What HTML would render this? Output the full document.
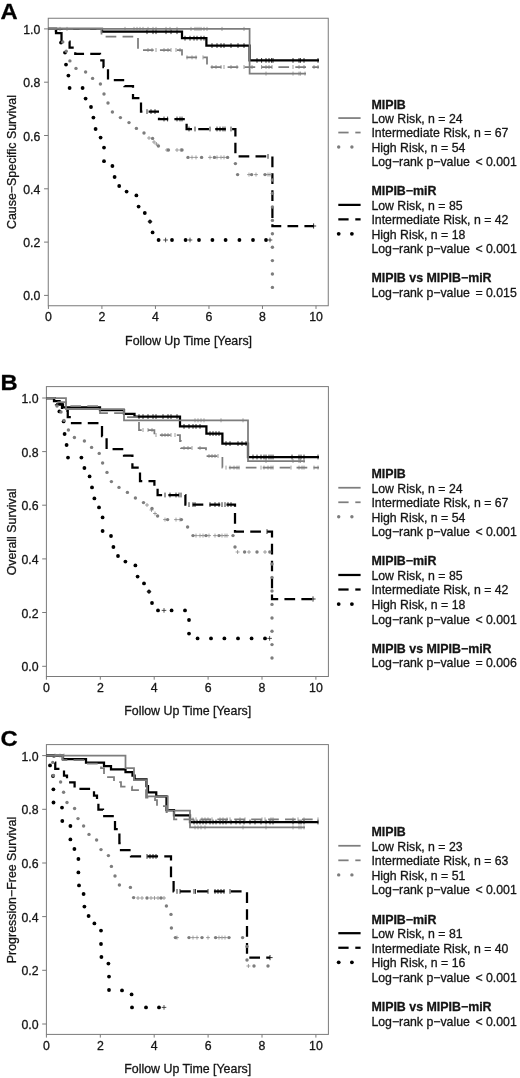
<!DOCTYPE html>
<html lang="en"><head><meta charset="utf-8"><title>Kaplan-Meier survival: MIPIB vs MIPIB-miR</title>
<style>html,body{margin:0;padding:0;background:#fff}svg{display:block}text{font-family:"Liberation Sans", sans-serif;stroke:#151515;stroke-width:0.3px;stroke-linejoin:round}</style>
</head><body>
<svg width="520" height="1078" viewBox="0 0 520 1078">
<rect width="520" height="1078" fill="#fff"/>
<g id="panelA">
<text transform="translate(0.6,18.6) scale(1.07,1)" font-size="22.2" font-weight="bold" fill="#000">A</text>
<rect x="48.25" y="18.25" width="280" height="287.5" fill="none" stroke="#7a7a7a" stroke-width="1"/>
<path d="M48.25,28.9h-4.2M48.25,82.2h-4.2M48.25,135.5h-4.2M48.25,188.8h-4.2M48.25,242.1h-4.2M48.25,295.4h-4.2M48.4,305.75v3.2M101.92,305.75v3.2M155.44,305.75v3.2M208.96,305.75v3.2M262.48,305.75v3.2M316,305.75v3.2" stroke="#7a7a7a" stroke-width="1" fill="none"/>
<text x="40.35" y="33.9" font-size="12.3" text-anchor="end" font-weight="normal" fill="#151515">1.0</text>
<text x="40.35" y="87.2" font-size="12.3" text-anchor="end" font-weight="normal" fill="#151515">0.8</text>
<text x="40.35" y="140.5" font-size="12.3" text-anchor="end" font-weight="normal" fill="#151515">0.6</text>
<text x="40.35" y="193.8" font-size="12.3" text-anchor="end" font-weight="normal" fill="#151515">0.4</text>
<text x="40.35" y="247.1" font-size="12.3" text-anchor="end" font-weight="normal" fill="#151515">0.2</text>
<text x="40.35" y="300.4" font-size="12.3" text-anchor="end" font-weight="normal" fill="#151515">0.0</text>
<text x="48.4" y="320.6" font-size="12.3" text-anchor="middle" font-weight="normal" fill="#151515">0</text>
<text x="101.92" y="320.6" font-size="12.3" text-anchor="middle" font-weight="normal" fill="#151515">2</text>
<text x="155.44" y="320.6" font-size="12.3" text-anchor="middle" font-weight="normal" fill="#151515">4</text>
<text x="208.96" y="320.6" font-size="12.3" text-anchor="middle" font-weight="normal" fill="#151515">6</text>
<text x="262.48" y="320.6" font-size="12.3" text-anchor="middle" font-weight="normal" fill="#151515">8</text>
<text x="316" y="320.6" font-size="12.3" text-anchor="middle" font-weight="normal" fill="#151515">10</text>
<text x="188.55" y="345" font-size="12.4" text-anchor="middle" font-weight="normal" fill="#151515">Follow Up Time [Years]</text>
<text x="15.7" y="162" font-size="12.4" text-anchor="middle" font-weight="normal" fill="#151515" transform="rotate(-90 15.7 162)">Cause−Specific Survival</text>
<path d="M48.4,28.9H102V31.7H182V38.2H206.4V45.6H249.6V60.4H319" fill="none" stroke="#000" stroke-width="2.25" stroke-linecap="butt" stroke-linejoin="miter"/>
<path d="M147,29.3v4.8M153,29.3v4.8M156,29.3v4.8M166,29.3v4.8M171,29.3v4.8M177,29.3v4.8" stroke="#000" stroke-width="0.8" fill="none"/>
<path d="M185,35.8v4.8M190,35.8v4.8M194,35.8v4.8M197,35.8v4.8M201,35.8v4.8M204,35.8v4.8" stroke="#000" stroke-width="0.8" fill="none"/>
<path d="M212,43.2v4.8M217,43.2v4.8M221,43.2v4.8M224,43.2v4.8M231,43.2v4.8M238,43.2v4.8M244,43.2v4.8" stroke="#000" stroke-width="0.8" fill="none"/>
<path d="M257,58v4.8M261.6,58v4.8M266,58v4.8M269,58v4.8M271.6,58v4.8M273,58v4.8M293,58v4.8M299,58v4.8M300.4,58v4.8M304,58v4.8M318,58v4.8" stroke="#000" stroke-width="0.8" fill="none"/>
<path d="M48.4,28.9H56V33H61.5V41.5H69.6V47.5H75.25V53.75H100V60.4H103.5V67H108V80H124.5V86H133V98H141V111.6H159V119H186.6" fill="none" stroke="#000" stroke-width="2.25" stroke-linecap="butt" stroke-linejoin="miter" stroke-dasharray="10.4 6.2" stroke-dashoffset="-0.3"/>
<path d="M186.6,119V129H235.4V156.4H272.4V226H313.6" fill="none" stroke="#000" stroke-width="2.25" stroke-linecap="butt" stroke-linejoin="miter" stroke-dasharray="10.7 6.23" stroke-dashoffset="12.2"/>
<path d="M56,29.5V33H61.5" fill="none" stroke="#000" stroke-width="2.25" stroke-linecap="butt" stroke-linejoin="miter"/>
<path d="M147,109.2v4.8M151,109.2v4.8M155,109.2v4.8" stroke="#000" stroke-width="0.8" fill="none"/>
<path d="M164,116.6v4.8M167.6,116.6v4.8M177,116.6v4.8M180,116.6v4.8M182,116.6v4.8" stroke="#000" stroke-width="0.8" fill="none"/>
<path d="M189,126.6v4.8M195,126.6v4.8M210,126.6v4.8M217,126.6v4.8M220,126.6v4.8M223,126.6v4.8M225,126.6v4.8M231,126.6v4.8" stroke="#000" stroke-width="0.8" fill="none"/>
<path d="M268,154v4.8" stroke="#000" stroke-width="0.8" fill="none"/>
<path d="M313.6,223.4v5.2M311,226h5.2" stroke="#000" stroke-width="0.8" fill="none"/>
<g fill="#000">
<circle cx="61" cy="42.6" r="1.9"/>
<circle cx="65" cy="52.6" r="1.9"/>
<circle cx="66" cy="64.6" r="1.9"/>
<circle cx="68.4" cy="75.6" r="1.9"/>
<circle cx="69.6" cy="88" r="1.9"/>
<circle cx="82.6" cy="88" r="1.9"/>
<circle cx="85.6" cy="98.6" r="1.9"/>
<circle cx="91" cy="107" r="1.9"/>
<circle cx="93.4" cy="117.6" r="1.9"/>
<circle cx="95.6" cy="129" r="1.9"/>
<circle cx="100.6" cy="137.6" r="1.9"/>
<circle cx="104" cy="147.6" r="1.9"/>
<circle cx="104" cy="161.2" r="1.9"/>
<circle cx="112.4" cy="166" r="1.9"/>
<circle cx="114.6" cy="177" r="1.9"/>
<circle cx="119.2" cy="186" r="1.9"/>
<circle cx="126.6" cy="191.6" r="1.9"/>
<circle cx="136.4" cy="195.4" r="1.9"/>
<circle cx="138.6" cy="206.6" r="1.9"/>
<circle cx="144.8" cy="213" r="1.9"/>
<circle cx="150" cy="221.6" r="1.9"/>
<circle cx="152.6" cy="232.4" r="1.9"/>
<circle cx="158.6" cy="240" r="1.9"/>
<circle cx="172" cy="240" r="1.9"/>
<circle cx="185.6" cy="240" r="1.9"/>
<circle cx="199" cy="240" r="1.9"/>
<circle cx="212.4" cy="240" r="1.9"/>
<circle cx="225.6" cy="240" r="1.9"/>
<circle cx="239.4" cy="240" r="1.9"/>
<circle cx="253" cy="240" r="1.9"/>
<circle cx="266" cy="240" r="1.9"/>
</g>
<path d="M150,219.3v4.6M147.7,221.6h4.6M165.6,237.7v4.6M163.3,240h4.6M190,237.7v4.6M187.7,240h4.6M270,237.7v4.6M267.7,240h4.6" stroke="#222" stroke-width="0.8" fill="none"/>
<path d="M48.4,28.9H249.6V73.6H306" fill="none" stroke="#7d7d7d" stroke-width="1.75" stroke-linecap="butt" stroke-linejoin="miter"/>
<path d="M60,26.9v4M67,26.9v4M125,26.9v4M134,26.9v4M137,26.9v4M140,26.9v4M143,26.9v4M148,26.9v4M153,26.9v4M156,26.9v4M166,26.9v4M170,26.9v4M177,26.9v4M191,26.9v4M195,26.9v4M197,26.9v4M199,26.9v4M201,26.9v4M204,26.9v4M207,26.9v4M222,26.9v4M244,26.9v4" stroke="#7d7d7d" stroke-width="0.75" fill="none"/>
<path d="M266,71.6v4M293,71.6v4M299,71.6v4M300.4,71.6v4M305,71.6v4" stroke="#7d7d7d" stroke-width="0.75" fill="none"/>
<path d="M48.4,28.9H101.5V36.6H138V50H182V57.4H207V67H319" fill="none" stroke="#7d7d7d" stroke-width="1.75" stroke-linecap="butt" stroke-linejoin="miter" stroke-dasharray="10.7 6.23" stroke-dashoffset="2.8"/>
<path d="M148,48v4M152,48v4M156,48v4M164,48v4M168,48v4M171,48v4M176,48v4M180,48v4" stroke="#7d7d7d" stroke-width="0.75" fill="none"/>
<path d="M187,55.4v4M192,55.4v4M196,55.4v4M203,55.4v4" stroke="#7d7d7d" stroke-width="0.75" fill="none"/>
<path d="M212,65v4M216,65v4M221,65v4M224,65v4M231,65v4M237,65v4M244,65v4M252,65v4M261.6,65v4M266,65v4M269,65v4M272,65v4M293,65v4M299,65v4M304,65v4M314,65v4M318,65v4" stroke="#7d7d7d" stroke-width="0.75" fill="none"/>
<g fill="#7d7d7d">
<circle cx="62.75" cy="41.9" r="1.7"/>
<circle cx="66.25" cy="51.25" r="1.7"/>
<circle cx="69.9" cy="60.9" r="1.7"/>
<circle cx="76" cy="68.4" r="1.7"/>
<circle cx="85.6" cy="72" r="1.7"/>
<circle cx="92.6" cy="78.4" r="1.7"/>
<circle cx="100.4" cy="84" r="1.7"/>
<circle cx="104" cy="94" r="1.7"/>
<circle cx="108" cy="103" r="1.7"/>
<circle cx="112.4" cy="112" r="1.7"/>
<circle cx="120.4" cy="117.6" r="1.7"/>
<circle cx="129" cy="122.6" r="1.7"/>
<circle cx="136.4" cy="128.4" r="1.7"/>
<circle cx="144" cy="133" r="1.7"/>
<circle cx="152.6" cy="138.4" r="1.7"/>
<circle cx="158.4" cy="146" r="1.7"/>
<circle cx="168.4" cy="150" r="1.7"/>
<circle cx="182" cy="150" r="1.7"/>
<circle cx="188" cy="157.4" r="1.7"/>
<circle cx="201.6" cy="157.4" r="1.7"/>
<circle cx="214.4" cy="157.4" r="1.7"/>
<circle cx="227.6" cy="157.4" r="1.7"/>
<circle cx="235.4" cy="163.6" r="1.7"/>
<circle cx="237.6" cy="174.6" r="1.7"/>
<circle cx="251.6" cy="174.6" r="1.7"/>
<circle cx="265" cy="174.6" r="1.7"/>
<circle cx="272.4" cy="180" r="1.7"/>
<circle cx="272.4" cy="193.4" r="1.7"/>
<circle cx="272.4" cy="207" r="1.7"/>
<circle cx="272.4" cy="220.4" r="1.7"/>
<circle cx="272.4" cy="233.8" r="1.7"/>
<circle cx="272.4" cy="247.2" r="1.7"/>
<circle cx="272.4" cy="260.6" r="1.7"/>
<circle cx="272.4" cy="274" r="1.7"/>
<circle cx="272.4" cy="287.4" r="1.7"/>
</g>
<path d="M149,136v4M147,138h4M154,140v4M152,142h4M156.4,142v4M154.4,144h4M167,148v4M165,150h4M177,148v4M175,150h4M181,148v4M179,150h4M192,155.4v4M190,157.4h4M196,155.4v4M194,157.4h4M210,155.4v4M208,157.4h4M217,155.4v4M215,157.4h4M221,155.4v4M219,157.4h4M224,155.4v4M222,157.4h4M249,172.6v4M247,174.6h4M256,172.6v4M254,174.6h4M268,172.6v4M266,174.6h4M270,172.6v4M268,174.6h4" stroke="#7d7d7d" stroke-width="0.7" fill="none"/>
<text x="371.4" y="108.5" font-size="12.4" text-anchor="start" font-weight="bold" fill="#151515">MIPIB</text>
<text x="371.4" y="122.97" font-size="12.3" text-anchor="start" font-weight="normal" fill="#151515">Low Risk, n = 24</text>
<path d="M338.3,118.07H360.6" fill="none" stroke="#7d7d7d" stroke-width="1.75" stroke-linecap="butt" stroke-linejoin="miter"/>
<text x="371.4" y="137.44" font-size="12.3" text-anchor="start" font-weight="normal" fill="#151515">Intermediate Risk, n = 67</text>
<path d="M338.3,132.54H348.6" fill="none" stroke="#7d7d7d" stroke-width="1.75" stroke-linecap="butt" stroke-linejoin="miter"/>
<path d="M355.3,132.54H360.6" fill="none" stroke="#7d7d7d" stroke-width="1.75" stroke-linecap="butt" stroke-linejoin="miter"/>
<text x="371.4" y="151.91" font-size="12.3" text-anchor="start" font-weight="normal" fill="#151515">High Risk, n = 54</text>
<g fill="#7d7d7d">
<circle cx="338.7" cy="147.01" r="1.7"/>
<circle cx="351.9" cy="147.01" r="1.7"/>
</g>
<text x="371.4" y="166.38" font-size="12.3" text-anchor="start" font-weight="normal" fill="#151515">Log−rank p−value</text>
<text x="516.8" y="166.38" font-size="12.3" text-anchor="end" font-weight="normal" fill="#151515">&lt; 0.001</text>
<text x="371.4" y="195.32" font-size="12.4" text-anchor="start" font-weight="bold" fill="#151515">MIPIB−miR</text>
<text x="371.4" y="209.79" font-size="12.3" text-anchor="start" font-weight="normal" fill="#151515">Low Risk, n = 85</text>
<path d="M338.3,204.89H360.6" fill="none" stroke="#000" stroke-width="2.25" stroke-linecap="butt" stroke-linejoin="miter"/>
<text x="371.4" y="224.26" font-size="12.3" text-anchor="start" font-weight="normal" fill="#151515">Intermediate Risk, n = 42</text>
<path d="M338.3,219.36H348.6" fill="none" stroke="#000" stroke-width="2.25" stroke-linecap="butt" stroke-linejoin="miter"/>
<path d="M355.3,219.36H360.6" fill="none" stroke="#000" stroke-width="2.25" stroke-linecap="butt" stroke-linejoin="miter"/>
<text x="371.4" y="238.73" font-size="12.3" text-anchor="start" font-weight="normal" fill="#151515">High Risk, n = 18</text>
<g fill="#000">
<circle cx="338.7" cy="233.83" r="1.9"/>
<circle cx="351.9" cy="233.83" r="1.9"/>
</g>
<text x="371.4" y="253.2" font-size="12.3" text-anchor="start" font-weight="normal" fill="#151515">Log−rank p−value</text>
<text x="516.8" y="253.2" font-size="12.3" text-anchor="end" font-weight="normal" fill="#151515">&lt; 0.001</text>
<text x="371.4" y="282.14" font-size="12.4" text-anchor="start" font-weight="bold" fill="#151515">MIPIB vs MIPIB−miR</text>
<text x="371.4" y="296.61" font-size="12.3" text-anchor="start" font-weight="normal" fill="#151515">Log−rank p−value</text>
<text x="516.8" y="296.61" font-size="12.3" text-anchor="end" font-weight="normal" fill="#151515">= 0.015</text>
</g>
<g id="panelB">
<text transform="translate(0.6,389.6) scale(1.07,1)" font-size="22.2" font-weight="bold" fill="#000">B</text>
<rect x="46.4" y="386.6" width="282" height="289.9" fill="none" stroke="#7a7a7a" stroke-width="1"/>
<path d="M46.4,398h-4.2M46.4,451.6h-4.2M46.4,505.2h-4.2M46.4,558.9h-4.2M46.4,612.5h-4.2M46.4,666.3h-4.2M46.4,676.5v3.2M100.3,676.5v3.2M154.2,676.5v3.2M208.1,676.5v3.2M262,676.5v3.2M315.9,676.5v3.2" stroke="#7a7a7a" stroke-width="1" fill="none"/>
<text x="38.5" y="403" font-size="12.3" text-anchor="end" font-weight="normal" fill="#151515">1.0</text>
<text x="38.5" y="456.6" font-size="12.3" text-anchor="end" font-weight="normal" fill="#151515">0.8</text>
<text x="38.5" y="510.2" font-size="12.3" text-anchor="end" font-weight="normal" fill="#151515">0.6</text>
<text x="38.5" y="563.9" font-size="12.3" text-anchor="end" font-weight="normal" fill="#151515">0.4</text>
<text x="38.5" y="617.5" font-size="12.3" text-anchor="end" font-weight="normal" fill="#151515">0.2</text>
<text x="38.5" y="671.3" font-size="12.3" text-anchor="end" font-weight="normal" fill="#151515">0.0</text>
<text x="46.4" y="691.7" font-size="12.3" text-anchor="middle" font-weight="normal" fill="#151515">0</text>
<text x="100.3" y="691.7" font-size="12.3" text-anchor="middle" font-weight="normal" fill="#151515">2</text>
<text x="154.2" y="691.7" font-size="12.3" text-anchor="middle" font-weight="normal" fill="#151515">4</text>
<text x="208.1" y="691.7" font-size="12.3" text-anchor="middle" font-weight="normal" fill="#151515">6</text>
<text x="262" y="691.7" font-size="12.3" text-anchor="middle" font-weight="normal" fill="#151515">8</text>
<text x="315.9" y="691.7" font-size="12.3" text-anchor="middle" font-weight="normal" fill="#151515">10</text>
<text x="187.7" y="715" font-size="12.4" text-anchor="middle" font-weight="normal" fill="#151515">Follow Up Time [Years]</text>
<text x="15.7" y="532" font-size="12.4" text-anchor="middle" font-weight="normal" fill="#151515" transform="rotate(-90 15.7 532)">Overall Survival</text>
<path d="M46.4,398H54V401H59.6V404.3H63V407.4H100V410H124V413.8H134.5V416.7H180V426.4H206.4V433.6H222.4V443.6H248V457H319" fill="none" stroke="#000" stroke-width="2.25" stroke-linecap="butt" stroke-linejoin="miter"/>
<path d="M139,414.2v4.8M143,414.2v4.8M148,414.2v4.8M153,414.2v4.8M156,414.2v4.8M163,414.2v4.8M168,414.2v4.8M171,414.2v4.8M177,414.2v4.8" stroke="#000" stroke-width="0.8" fill="none"/>
<path d="M184,424v4.8M189,424v4.8M193,424v4.8M196,424v4.8M200,424v4.8" stroke="#000" stroke-width="0.8" fill="none"/>
<path d="M210,431.2v4.8M213,431.2v4.8M216,431.2v4.8M219,431.2v4.8" stroke="#000" stroke-width="0.8" fill="none"/>
<path d="M226,441.2v4.8M230,441.2v4.8M238,441.2v4.8M242,441.2v4.8M246,441.2v4.8" stroke="#000" stroke-width="0.8" fill="none"/>
<path d="M253,454.6v4.8M257,454.6v4.8M261,454.6v4.8M264,454.6v4.8M266,454.6v4.8M269,454.6v4.8M271,454.6v4.8M273,454.6v4.8M292,454.6v4.8M299,454.6v4.8M301,454.6v4.8M304,454.6v4.8M318,454.6v4.8" stroke="#000" stroke-width="0.8" fill="none"/>
<path d="M46.4,398H56V404.4H62V410.8H67.75V417H72V423.2H102V436H106.6V449.2H124V455.6H132.4V467.6H140V481H154.4V488H157.6V495H185.4V504.6H235V531.6H272V599H313" fill="none" stroke="#000" stroke-width="2.25" stroke-linecap="butt" stroke-linejoin="miter" stroke-dasharray="10.7 6.23" stroke-dashoffset="1.15"/>
<path d="M165,492.6v4.8M170,492.6v4.8M176,492.6v4.8M179,492.6v4.8M181,492.6v4.8" stroke="#000" stroke-width="0.8" fill="none"/>
<path d="M189,502.2v4.8M193,502.2v4.8M195,502.2v4.8M210,502.2v4.8M215,502.2v4.8M219,502.2v4.8M222,502.2v4.8M225,502.2v4.8M228,502.2v4.8M231,502.2v4.8" stroke="#000" stroke-width="0.8" fill="none"/>
<path d="M267,529.2v4.8" stroke="#000" stroke-width="0.8" fill="none"/>
<path d="M313,596.4v5.2M310.4,599h5.2" stroke="#000" stroke-width="0.8" fill="none"/>
<g fill="#000">
<circle cx="59.4" cy="411.4" r="1.9"/>
<circle cx="63.6" cy="421.4" r="1.9"/>
<circle cx="64.6" cy="434" r="1.9"/>
<circle cx="66.6" cy="445" r="1.9"/>
<circle cx="68" cy="457.6" r="1.9"/>
<circle cx="81.4" cy="457.6" r="1.9"/>
<circle cx="84.4" cy="468" r="1.9"/>
<circle cx="89.6" cy="476.4" r="1.9"/>
<circle cx="92" cy="487.4" r="1.9"/>
<circle cx="94.4" cy="498.4" r="1.9"/>
<circle cx="99" cy="507.4" r="1.9"/>
<circle cx="102.6" cy="517.4" r="1.9"/>
<circle cx="102.6" cy="531" r="1.9"/>
<circle cx="111" cy="536" r="1.9"/>
<circle cx="113.4" cy="547" r="1.9"/>
<circle cx="118" cy="556" r="1.9"/>
<circle cx="125.4" cy="561.6" r="1.9"/>
<circle cx="135.4" cy="565.4" r="1.9"/>
<circle cx="137.6" cy="576.6" r="1.9"/>
<circle cx="144" cy="583.4" r="1.9"/>
<circle cx="149" cy="591.6" r="1.9"/>
<circle cx="152" cy="603" r="1.9"/>
<circle cx="158" cy="610.4" r="1.9"/>
<circle cx="171.6" cy="610.4" r="1.9"/>
<circle cx="185" cy="610.4" r="1.9"/>
<circle cx="189" cy="620" r="1.9"/>
<circle cx="189" cy="633.6" r="1.9"/>
<circle cx="197.6" cy="638.4" r="1.9"/>
<circle cx="211" cy="638.4" r="1.9"/>
<circle cx="224.4" cy="638.4" r="1.9"/>
<circle cx="238" cy="638.4" r="1.9"/>
<circle cx="251.6" cy="638.4" r="1.9"/>
<circle cx="265" cy="638.4" r="1.9"/>
</g>
<path d="M149,589.3v4.6M146.7,591.6h4.6M164,608.1v4.6M161.7,610.4h4.6M269.6,636.1v4.6M267.3,638.4h4.6" stroke="#222" stroke-width="0.8" fill="none"/>
<path d="M46.4,398H66V409.2H124V420.3H248V461H305" fill="none" stroke="#7d7d7d" stroke-width="1.75" stroke-linecap="butt" stroke-linejoin="miter"/>
<path d="M195,418.3v4M198,418.3v4M201,418.3v4M204,418.3v4M221,418.3v4M243,418.3v4" stroke="#7d7d7d" stroke-width="0.75" fill="none"/>
<path d="M266,459v4M293,459v4M299,459v4M300.4,459v4M304,459v4" stroke="#7d7d7d" stroke-width="0.75" fill="none"/>
<path d="M46.4,398H56V402H66V406H100V413H124V417H139V430H154.4V435H180V441H181V448H206V456H222.4V467.6H319" fill="none" stroke="#7d7d7d" stroke-width="1.75" stroke-linecap="butt" stroke-linejoin="miter" stroke-dasharray="10.7 6.23" stroke-dashoffset="1.9"/>
<path d="M143,428v4M148,428v4M152,428v4" stroke="#7d7d7d" stroke-width="0.75" fill="none"/>
<path d="M156,433v4M162,433v4M165,433v4M168,433v4M171,433v4M175,433v4" stroke="#7d7d7d" stroke-width="0.75" fill="none"/>
<path d="M184,446v4M188,446v4M192,446v4M200,446v4" stroke="#7d7d7d" stroke-width="0.75" fill="none"/>
<path d="M209,454v4M212,454v4M215,454v4M218,454v4" stroke="#7d7d7d" stroke-width="0.75" fill="none"/>
<path d="M226,465.6v4M230,465.6v4M234,465.6v4M237,465.6v4M239,465.6v4M261,465.6v4M264,465.6v4M268,465.6v4M271,465.6v4M273,465.6v4M291,465.6v4M299,465.6v4M302,465.6v4M304,465.6v4M314,465.6v4M318,465.6v4" stroke="#7d7d7d" stroke-width="0.75" fill="none"/>
<g fill="#7d7d7d">
<circle cx="57" cy="406" r="1.7"/>
<circle cx="61" cy="412" r="1.7"/>
<circle cx="64" cy="420.4" r="1.7"/>
<circle cx="68.4" cy="430" r="1.7"/>
<circle cx="74.4" cy="437.5" r="1.7"/>
<circle cx="84.4" cy="441" r="1.7"/>
<circle cx="91.6" cy="447.4" r="1.7"/>
<circle cx="99.2" cy="453.4" r="1.7"/>
<circle cx="102.6" cy="463" r="1.7"/>
<circle cx="107" cy="472.4" r="1.7"/>
<circle cx="111.4" cy="481.6" r="1.7"/>
<circle cx="119" cy="487.4" r="1.7"/>
<circle cx="127.4" cy="492.4" r="1.7"/>
<circle cx="135.4" cy="498" r="1.7"/>
<circle cx="143.5" cy="502.6" r="1.7"/>
<circle cx="152" cy="508.4" r="1.7"/>
<circle cx="157.6" cy="516" r="1.7"/>
<circle cx="167.6" cy="519.6" r="1.7"/>
<circle cx="181.4" cy="519.6" r="1.7"/>
<circle cx="187.6" cy="527" r="1.7"/>
<circle cx="193" cy="535.6" r="1.7"/>
<circle cx="206" cy="535.6" r="1.7"/>
<circle cx="219" cy="535.6" r="1.7"/>
<circle cx="233" cy="535.6" r="1.7"/>
<circle cx="235" cy="547" r="1.7"/>
<circle cx="244.6" cy="552" r="1.7"/>
<circle cx="257" cy="552" r="1.7"/>
<circle cx="269.8" cy="552" r="1.7"/>
<circle cx="272" cy="564" r="1.7"/>
<circle cx="272" cy="577.4" r="1.7"/>
<circle cx="272" cy="591" r="1.7"/>
<circle cx="272" cy="604.4" r="1.7"/>
<circle cx="272" cy="618" r="1.7"/>
<circle cx="272" cy="631.2" r="1.7"/>
<circle cx="272" cy="644.6" r="1.7"/>
<circle cx="272" cy="658" r="1.7"/>
</g>
<path d="M147,503v4M145,505h4M151.5,508v4M149.5,510h4M155,511.5v4M153,513.5h4M165,517.6v4M163,519.6h4M176,517.6v4M174,519.6h4M180,517.6v4M178,519.6h4M196,533.6v4M194,535.6h4M200,533.6v4M198,535.6h4M203,533.6v4M201,535.6h4M209,533.6v4M207,535.6h4M215,533.6v4M213,535.6h4M222,533.6v4M220,535.6h4M225,533.6v4M223,535.6h4M227,533.6v4M225,535.6h4M237.6,550v4M235.6,552h4M249,550v4M247,552h4M265,550v4M263,552h4" stroke="#7d7d7d" stroke-width="0.7" fill="none"/>
<text x="371.4" y="478.1" font-size="12.4" text-anchor="start" font-weight="bold" fill="#151515">MIPIB</text>
<text x="371.4" y="492.64" font-size="12.3" text-anchor="start" font-weight="normal" fill="#151515">Low Risk, n = 24</text>
<path d="M338.3,487.74H360.6" fill="none" stroke="#7d7d7d" stroke-width="1.75" stroke-linecap="butt" stroke-linejoin="miter"/>
<text x="371.4" y="507.18" font-size="12.3" text-anchor="start" font-weight="normal" fill="#151515">Intermediate Risk, n = 67</text>
<path d="M338.3,502.28H348.6" fill="none" stroke="#7d7d7d" stroke-width="1.75" stroke-linecap="butt" stroke-linejoin="miter"/>
<path d="M355.3,502.28H360.6" fill="none" stroke="#7d7d7d" stroke-width="1.75" stroke-linecap="butt" stroke-linejoin="miter"/>
<text x="371.4" y="521.72" font-size="12.3" text-anchor="start" font-weight="normal" fill="#151515">High Risk, n = 54</text>
<g fill="#7d7d7d">
<circle cx="338.7" cy="516.82" r="1.7"/>
<circle cx="351.9" cy="516.82" r="1.7"/>
</g>
<text x="371.4" y="536.26" font-size="12.3" text-anchor="start" font-weight="normal" fill="#151515">Log−rank p−value</text>
<text x="516.8" y="536.26" font-size="12.3" text-anchor="end" font-weight="normal" fill="#151515">&lt; 0.001</text>
<text x="371.4" y="565.34" font-size="12.4" text-anchor="start" font-weight="bold" fill="#151515">MIPIB−miR</text>
<text x="371.4" y="579.88" font-size="12.3" text-anchor="start" font-weight="normal" fill="#151515">Low Risk, n = 85</text>
<path d="M338.3,574.98H360.6" fill="none" stroke="#000" stroke-width="2.25" stroke-linecap="butt" stroke-linejoin="miter"/>
<text x="371.4" y="594.42" font-size="12.3" text-anchor="start" font-weight="normal" fill="#151515">Intermediate Risk, n = 42</text>
<path d="M338.3,589.52H348.6" fill="none" stroke="#000" stroke-width="2.25" stroke-linecap="butt" stroke-linejoin="miter"/>
<path d="M355.3,589.52H360.6" fill="none" stroke="#000" stroke-width="2.25" stroke-linecap="butt" stroke-linejoin="miter"/>
<text x="371.4" y="608.96" font-size="12.3" text-anchor="start" font-weight="normal" fill="#151515">High Risk, n = 18</text>
<g fill="#000">
<circle cx="338.7" cy="604.06" r="1.9"/>
<circle cx="351.9" cy="604.06" r="1.9"/>
</g>
<text x="371.4" y="623.5" font-size="12.3" text-anchor="start" font-weight="normal" fill="#151515">Log−rank p−value</text>
<text x="516.8" y="623.5" font-size="12.3" text-anchor="end" font-weight="normal" fill="#151515">&lt; 0.001</text>
<text x="371.4" y="652.58" font-size="12.4" text-anchor="start" font-weight="bold" fill="#151515">MIPIB vs MIPIB−miR</text>
<text x="371.4" y="667.12" font-size="12.3" text-anchor="start" font-weight="normal" fill="#151515">Log−rank p−value</text>
<text x="516.8" y="667.12" font-size="12.3" text-anchor="end" font-weight="normal" fill="#151515">= 0.006</text>
</g>
<g id="panelC">
<text transform="translate(0.6,746.4) scale(1.07,1)" font-size="22.2" font-weight="bold" fill="#000">C</text>
<rect x="46.4" y="744.6" width="282" height="289.8" fill="none" stroke="#7a7a7a" stroke-width="1"/>
<path d="M46.4,755.6h-4.2M46.4,809.3h-4.2M46.4,863h-4.2M46.4,916.6h-4.2M46.4,970.3h-4.2M46.4,1024h-4.2M46.4,1034.4v3.2M100.3,1034.4v3.2M154.2,1034.4v3.2M208.1,1034.4v3.2M262,1034.4v3.2M315.9,1034.4v3.2" stroke="#7a7a7a" stroke-width="1" fill="none"/>
<text x="38.5" y="760.6" font-size="12.3" text-anchor="end" font-weight="normal" fill="#151515">1.0</text>
<text x="38.5" y="814.3" font-size="12.3" text-anchor="end" font-weight="normal" fill="#151515">0.8</text>
<text x="38.5" y="868" font-size="12.3" text-anchor="end" font-weight="normal" fill="#151515">0.6</text>
<text x="38.5" y="921.6" font-size="12.3" text-anchor="end" font-weight="normal" fill="#151515">0.4</text>
<text x="38.5" y="975.3" font-size="12.3" text-anchor="end" font-weight="normal" fill="#151515">0.2</text>
<text x="38.5" y="1029" font-size="12.3" text-anchor="end" font-weight="normal" fill="#151515">0.0</text>
<text x="46.4" y="1049.6" font-size="12.3" text-anchor="middle" font-weight="normal" fill="#151515">0</text>
<text x="100.3" y="1049.6" font-size="12.3" text-anchor="middle" font-weight="normal" fill="#151515">2</text>
<text x="154.2" y="1049.6" font-size="12.3" text-anchor="middle" font-weight="normal" fill="#151515">4</text>
<text x="208.1" y="1049.6" font-size="12.3" text-anchor="middle" font-weight="normal" fill="#151515">6</text>
<text x="262" y="1049.6" font-size="12.3" text-anchor="middle" font-weight="normal" fill="#151515">8</text>
<text x="315.9" y="1049.6" font-size="12.3" text-anchor="middle" font-weight="normal" fill="#151515">10</text>
<text x="187.7" y="1073" font-size="12.4" text-anchor="middle" font-weight="normal" fill="#151515">Follow Up Time [Years]</text>
<text x="15.7" y="890" font-size="12.4" text-anchor="middle" font-weight="normal" fill="#151515" transform="rotate(-90 15.7 890)">Progression−Free Survival</text>
<path d="M46.4,755.6H62.75V759H86V762.5H104V766H111V769.4H125.5V772H132.5V775.6H134.6V779.4H146.5V786H148V792.25H156.25V796.25H166.5V810H174V815.3H190V822H318.4" fill="none" stroke="#000" stroke-width="2.25" stroke-linecap="butt" stroke-linejoin="miter"/>
<path d="M194,819.6v4.8M197,819.6v4.8M200,819.6v4.8M203,819.6v4.8M206,819.6v4.8M210,819.6v4.8M213,819.6v4.8M216,819.6v4.8M220,819.6v4.8M223,819.6v4.8M226,819.6v4.8M231,819.6v4.8M236,819.6v4.8M240,819.6v4.8M244,819.6v4.8M250,819.6v4.8M255,819.6v4.8M261,819.6v4.8M266,819.6v4.8M270,819.6v4.8M273,819.6v4.8M293,819.6v4.8M299,819.6v4.8M301,819.6v4.8M304,819.6v4.8M318,819.6v4.8" stroke="#000" stroke-width="0.8" fill="none"/>
<path d="M46.4,755.6H53.75V762.5H55.25V768.8H64V775.5H67V782.3H74.6V788.9H94V795.5H97V802H98.4V809.5H103V816H115V829H119.4V843H121V850H131V856.4H171V878H173.6V891.4H247V957.6H270" fill="none" stroke="#000" stroke-width="2.25" stroke-linecap="butt" stroke-linejoin="miter" stroke-dasharray="10.7 6.23" stroke-dashoffset="1.4"/>
<path d="M147,854v4.8M150,854v4.8M153,854v4.8M156,854v4.8" stroke="#000" stroke-width="0.8" fill="none"/>
<path d="M177,889v4.8M180,889v4.8M194,889v4.8M195.5,889v4.8M208,889v4.8M215,889v4.8M218,889v4.8M221,889v4.8M224,889v4.8M230,889v4.8" stroke="#000" stroke-width="0.8" fill="none"/>
<path d="M270,955v5.2M267.4,957.6h5.2" stroke="#000" stroke-width="0.8" fill="none"/>
<g fill="#000">
<circle cx="50" cy="765.4" r="1.9"/>
<circle cx="53" cy="776" r="1.9"/>
<circle cx="53.4" cy="789.3" r="1.9"/>
<circle cx="53.5" cy="802.5" r="1.9"/>
<circle cx="62" cy="807.6" r="1.9"/>
<circle cx="62.3" cy="821" r="1.9"/>
<circle cx="70.4" cy="826" r="1.9"/>
<circle cx="70.4" cy="839.4" r="1.9"/>
<circle cx="74.4" cy="849" r="1.9"/>
<circle cx="78.4" cy="859" r="1.9"/>
<circle cx="78.4" cy="872.4" r="1.9"/>
<circle cx="79" cy="885.4" r="1.9"/>
<circle cx="83.6" cy="894" r="1.9"/>
<circle cx="84.4" cy="906.6" r="1.9"/>
<circle cx="88.6" cy="916" r="1.9"/>
<circle cx="94.4" cy="923.4" r="1.9"/>
<circle cx="101" cy="930.6" r="1.9"/>
<circle cx="101" cy="944" r="1.9"/>
<circle cx="101.4" cy="957" r="1.9"/>
<circle cx="108.4" cy="963.6" r="1.9"/>
<circle cx="109" cy="976.6" r="1.9"/>
<circle cx="109" cy="990" r="1.9"/>
<circle cx="122" cy="990.4" r="1.9"/>
<circle cx="131.6" cy="994.4" r="1.9"/>
<circle cx="132" cy="1007.4" r="1.9"/>
<circle cx="146" cy="1007.4" r="1.9"/>
<circle cx="159" cy="1007.4" r="1.9"/>
</g>
<path d="M164,1005.1v4.6M161.7,1007.4h4.6" stroke="#222" stroke-width="0.8" fill="none"/>
<path d="M46.4,755.6H125.5V768H134V780H147V796.25H167.75V810.6H190V827.4H305" fill="none" stroke="#7d7d7d" stroke-width="1.75" stroke-linecap="butt" stroke-linejoin="miter"/>
<path d="M195,825.4v4M198,825.4v4M201,825.4v4M205,825.4v4M243,825.4v4M266,825.4v4M293,825.4v4M299,825.4v4M301,825.4v4M304,825.4v4" stroke="#7d7d7d" stroke-width="0.75" fill="none"/>
<path d="M55,753.6v4M60,753.6v4M64,753.6v4" stroke="#7d7d7d" stroke-width="0.75" fill="none"/>
<path d="M46.4,755.6H62.75V760H86V763.5H101V768H104V775H108V777H114V782H121V786.5H132V790H146V797.5H155V800H157V806H166.5V812H174V819.4H318" fill="none" stroke="#7d7d7d" stroke-width="1.75" stroke-linecap="butt" stroke-linejoin="miter" stroke-dasharray="10.7 6.23" stroke-dashoffset="2.3"/>
<path d="M193,817.4v4M196,817.4v4M202,817.4v4M205,817.4v4M208,817.4v4M212,817.4v4M220,817.4v4M223,817.4v4M227,817.4v4M230,817.4v4M240,817.4v4M245,817.4v4M262,817.4v4M265,817.4v4M271,817.4v4M273,817.4v4M293,817.4v4M298,817.4v4M304,817.4v4M318,817.4v4" stroke="#7d7d7d" stroke-width="0.75" fill="none"/>
<g fill="#7d7d7d">
<circle cx="52.75" cy="762.4" r="1.7"/>
<circle cx="53.4" cy="775.4" r="1.7"/>
<circle cx="60.6" cy="782" r="1.7"/>
<circle cx="63.6" cy="792.3" r="1.7"/>
<circle cx="67" cy="802.5" r="1.7"/>
<circle cx="74.6" cy="808.5" r="1.7"/>
<circle cx="78" cy="818.6" r="1.7"/>
<circle cx="83.6" cy="826" r="1.7"/>
<circle cx="89" cy="834.4" r="1.7"/>
<circle cx="96.6" cy="840" r="1.7"/>
<circle cx="101" cy="849.6" r="1.7"/>
<circle cx="108.4" cy="855.6" r="1.7"/>
<circle cx="111.4" cy="866.4" r="1.7"/>
<circle cx="115" cy="876" r="1.7"/>
<circle cx="119.4" cy="885" r="1.7"/>
<circle cx="130.4" cy="887.4" r="1.7"/>
<circle cx="133.6" cy="897.6" r="1.7"/>
<circle cx="147" cy="898" r="1.7"/>
<circle cx="161" cy="898" r="1.7"/>
<circle cx="166.4" cy="906" r="1.7"/>
<circle cx="171" cy="914.4" r="1.7"/>
<circle cx="171.4" cy="928" r="1.7"/>
<circle cx="175.4" cy="937.6" r="1.7"/>
<circle cx="189" cy="937.6" r="1.7"/>
<circle cx="202" cy="937.6" r="1.7"/>
<circle cx="215.6" cy="937.6" r="1.7"/>
<circle cx="229" cy="937.6" r="1.7"/>
<circle cx="242.6" cy="937.6" r="1.7"/>
<circle cx="247" cy="946.4" r="1.7"/>
<circle cx="247" cy="960" r="1.7"/>
<circle cx="254" cy="966" r="1.7"/>
<circle cx="268" cy="966" r="1.7"/>
</g>
<path d="M138,896v4M136,898h4M142,896v4M140,898h4M151,896v4M149,898h4M154.5,896v4M152.5,898h4M158,896v4M156,898h4M164,896v4M162,898h4M177,935.6v4M175,937.6h4M193,935.6v4M191,937.6h4M197,935.6v4M195,937.6h4M208,935.6v4M206,937.6h4M219,935.6v4M217,937.6h4M222,935.6v4M220,937.6h4M225,935.6v4M223,937.6h4M248.4,964v4M246.4,966h4" stroke="#7d7d7d" stroke-width="0.7" fill="none"/>
<text x="371.4" y="836.1" font-size="12.4" text-anchor="start" font-weight="bold" fill="#151515">MIPIB</text>
<text x="371.4" y="850.67" font-size="12.3" text-anchor="start" font-weight="normal" fill="#151515">Low Risk, n = 23</text>
<path d="M338.3,845.77H360.6" fill="none" stroke="#7d7d7d" stroke-width="1.75" stroke-linecap="butt" stroke-linejoin="miter"/>
<text x="371.4" y="865.24" font-size="12.3" text-anchor="start" font-weight="normal" fill="#151515">Intermediate Risk, n = 63</text>
<path d="M338.3,860.34H348.6" fill="none" stroke="#7d7d7d" stroke-width="1.75" stroke-linecap="butt" stroke-linejoin="miter"/>
<path d="M355.3,860.34H360.6" fill="none" stroke="#7d7d7d" stroke-width="1.75" stroke-linecap="butt" stroke-linejoin="miter"/>
<text x="371.4" y="879.81" font-size="12.3" text-anchor="start" font-weight="normal" fill="#151515">High Risk, n = 51</text>
<g fill="#7d7d7d">
<circle cx="338.7" cy="874.91" r="1.7"/>
<circle cx="351.9" cy="874.91" r="1.7"/>
</g>
<text x="371.4" y="894.38" font-size="12.3" text-anchor="start" font-weight="normal" fill="#151515">Log−rank p−value</text>
<text x="516.8" y="894.38" font-size="12.3" text-anchor="end" font-weight="normal" fill="#151515">&lt; 0.001</text>
<text x="371.4" y="923.52" font-size="12.4" text-anchor="start" font-weight="bold" fill="#151515">MIPIB−miR</text>
<text x="371.4" y="938.09" font-size="12.3" text-anchor="start" font-weight="normal" fill="#151515">Low Risk, n = 81</text>
<path d="M338.3,933.19H360.6" fill="none" stroke="#000" stroke-width="2.25" stroke-linecap="butt" stroke-linejoin="miter"/>
<text x="371.4" y="952.66" font-size="12.3" text-anchor="start" font-weight="normal" fill="#151515">Intermediate Risk, n = 40</text>
<path d="M338.3,947.76H348.6" fill="none" stroke="#000" stroke-width="2.25" stroke-linecap="butt" stroke-linejoin="miter"/>
<path d="M355.3,947.76H360.6" fill="none" stroke="#000" stroke-width="2.25" stroke-linecap="butt" stroke-linejoin="miter"/>
<text x="371.4" y="967.23" font-size="12.3" text-anchor="start" font-weight="normal" fill="#151515">High Risk, n = 16</text>
<g fill="#000">
<circle cx="338.7" cy="962.33" r="1.9"/>
<circle cx="351.9" cy="962.33" r="1.9"/>
</g>
<text x="371.4" y="981.8" font-size="12.3" text-anchor="start" font-weight="normal" fill="#151515">Log−rank p−value</text>
<text x="516.8" y="981.8" font-size="12.3" text-anchor="end" font-weight="normal" fill="#151515">&lt; 0.001</text>
<text x="371.4" y="1010.94" font-size="12.4" text-anchor="start" font-weight="bold" fill="#151515">MIPIB vs MIPIB−miR</text>
<text x="371.4" y="1025.51" font-size="12.3" text-anchor="start" font-weight="normal" fill="#151515">Log−rank p−value</text>
<text x="516.8" y="1025.51" font-size="12.3" text-anchor="end" font-weight="normal" fill="#151515">&lt; 0.001</text>
</g>
</svg>
</body></html>
